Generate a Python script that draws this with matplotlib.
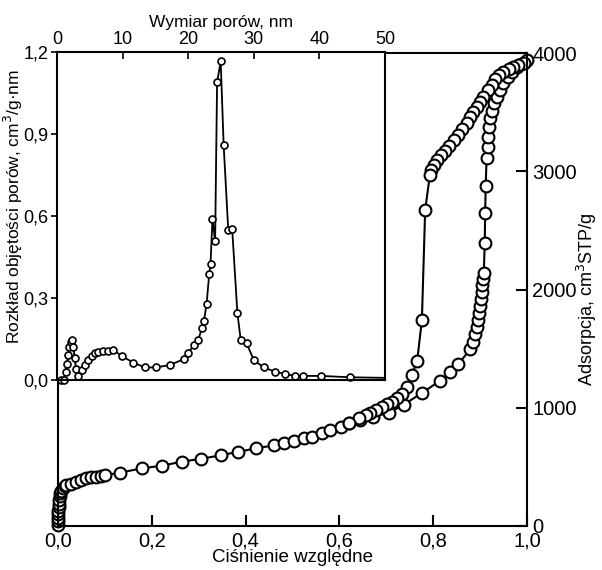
import matplotlib
matplotlib.use('Agg')
import matplotlib.pyplot as plt
from matplotlib.ticker import FuncFormatter

plt.rcParams['font.family'] = ['Liberation Sans', 'DejaVu Sans']

# izoterma - gałąź adsorpcji
ads_x = [0.000, 0.000, 0.001, 0.001, 0.001, 0.002, 0.002, 0.003, 0.004, 0.005,
         0.007, 0.010, 0.014, 0.018, 0.028, 0.039, 0.049, 0.060, 0.070, 0.081,
         0.092, 0.101, 0.133, 0.179, 0.222, 0.264, 0.306, 0.347, 0.383, 0.422,
         0.461, 0.482, 0.503, 0.524, 0.542, 0.563, 0.581, 0.603, 0.621, 0.645,
         0.672, 0.705, 0.737, 0.776, 0.815, 0.837, 0.854, 0.879, 0.886, 0.890,
         0.893, 0.896, 0.898, 0.900, 0.902, 0.904, 0.905, 0.906, 0.908, 0.910,
         0.911, 0.912, 0.914, 0.916, 0.918, 0.920, 0.922, 0.925, 0.930, 0.936,
         0.943, 0.950, 0.959, 0.969, 0.978, 0.988, 0.996]
ads_y = [10, 40, 70, 100, 130, 160, 190, 220, 250, 275,
         300, 320, 335, 345, 358, 375, 389, 402, 412, 418,
         424, 431, 451, 488, 510, 544, 569, 598, 626, 657,
         682, 699, 716, 742, 755, 784, 812, 835, 874, 895,
         925, 955, 1025, 1125, 1229, 1305, 1370, 1494, 1560, 1620,
         1680, 1740, 1800, 1860, 1920, 1980, 2040, 2090, 2137, 2391,
         2645, 2875, 3110, 3208, 3292, 3377, 3448, 3512, 3575, 3631,
         3687, 3744, 3794, 3842, 3879, 3907, 3926]

# gałąź desorpcji
des_x = [1.000, 0.993, 0.982, 0.971, 0.961, 0.950, 0.941, 0.932, 0.925, 0.917,
         0.907, 0.900, 0.893, 0.886, 0.879, 0.872, 0.861, 0.853, 0.844, 0.834,
         0.826, 0.817, 0.808, 0.801, 0.796, 0.793, 0.783, 0.776, 0.766, 0.755,
         0.744, 0.734, 0.723, 0.712, 0.702, 0.690, 0.678, 0.666, 0.656, 0.641,
         0.621]
des_y = [3941, 3918, 3899, 3879, 3862, 3842, 3814, 3777, 3729, 3687,
         3631, 3588, 3546, 3504, 3461, 3405, 3354, 3307, 3264, 3214,
         3174, 3137, 3095, 3053, 3011, 2968, 2672, 1742, 1398, 1280,
         1173, 1116, 1080, 1051, 1029, 1004, 981, 958, 939, 911,
         874]

# rozkład wielkości porów (wstawka)
psd_x = [0.6, 1.0, 1.3, 1.5, 1.7, 1.9, 2.1, 2.3, 2.5, 2.7, 2.9, 3.25, 3.76, 4.27,
         4.78, 5.28, 5.79, 6.3, 7.06, 7.83, 8.6, 9.86, 11.6, 13.4, 15.1, 17.2,
         19.3, 20.0, 20.9, 21.5, 22.1, 22.4, 22.8, 23.2, 23.4, 23.7, 24.1, 24.4,
         24.95, 25.4, 26.1, 26.7, 27.5, 28.0, 28.9, 30.0, 31.5, 33.2, 34.8, 36.3,
         37.5, 40.2, 44.7, 49.8]
psd_y = [0.0, 0.0, 0.03, 0.06, 0.09, 0.12, 0.14, 0.145, 0.12, 0.08, 0.04, 0.015,
         0.037, 0.055, 0.073, 0.088, 0.098, 0.104, 0.108, 0.108, 0.11, 0.088,
         0.064, 0.046, 0.046, 0.055, 0.076, 0.1, 0.128, 0.146, 0.189, 0.217,
         0.278, 0.388, 0.425, 0.59, 0.507, 1.089, 1.166, 0.86, 0.549, 0.552,
         0.244, 0.147, 0.134, 0.073, 0.046, 0.031, 0.022, 0.015, 0.015, 0.015,
         0.01, 0.008]

main_xticks = [0.0, 0.2, 0.4, 0.6, 0.8, 1.0]
main_yticks = [0, 1000, 2000, 3000, 4000]
ins_xticks = [0, 10, 20, 30, 40, 50]
ins_yticks = [0.0, 0.3, 0.6, 0.9, 1.2]

comma = FuncFormatter(lambda v, p: f'{v:.1f}'.replace('.', ','))

fig = plt.figure(figsize=(6.02, 5.70), dpi=100)

# główny wykres
ax = fig.add_axes([0.0963, 0.0772, 0.779, 0.8298])
mk = dict(marker='o', ms=8.5, mfc='white', mec='black', mew=1.5,
          color='black', lw=1.5, clip_on=False)
ax.plot(ads_x, ads_y, **mk)
ax.plot(des_x, des_y, **mk)
ax.set_xlim(0, 1.0)
ax.set_ylim(0, 4000)
ax.set_xticks(main_xticks)
ax.xaxis.set_major_formatter(comma)
ax.set_yticks(main_yticks)
ax.yaxis.tick_right()
ax.yaxis.set_label_position('right')
ax.tick_params(direction='in', length=8, width=1.5)
ax.tick_params(axis='x', pad=4, labelsize=14.5)
ax.tick_params(axis='y', pad=4, labelsize=14.5)
for s in ax.spines.values():
    s.set_linewidth(1.5)
ax.set_xlabel('Ciśnienie względne', fontsize=13.5, labelpad=-1)
ax.set_ylabel('Adsorpcja, cm$^3$STP/g', fontsize=13)
ax.yaxis.set_label_coords(1.102, 0.48)

# wstawka
ins = fig.add_axes([0.0947, 0.3333, 0.5449, 0.5754])
ins.plot(psd_x, psd_y, marker='o', ms=5, mfc='white', mec='black', mew=1.2,
         color='black', lw=1.3, clip_on=False,
         markevery=list(range(len(psd_x) - 1)))
ins.set_xlim(0, 50)
ins.set_ylim(0, 1.2)
ins.set_xticks(ins_xticks)
ins.set_yticks(ins_yticks)
ins.yaxis.set_major_formatter(comma)
ins.xaxis.tick_top()
ins.xaxis.set_label_position('top')
ins.tick_params(axis='x', direction='in', length=5, width=1.2, labelsize=13, pad=3)
ins.tick_params(axis='y', direction='out', length=4, width=1.2, labelsize=13, pad=2)
for s in ins.spines.values():
    s.set_linewidth(1.5)
ins.set_xlabel('Wymiar porów, nm', fontsize=12.5, labelpad=3)
ins.set_ylabel('Rozkład objętości porów, cm$^3$/g·nm', fontsize=12.5)
ins.yaxis.set_label_coords(-0.098, 0.53)

plt.savefig('out.png', dpi=100)
plt.close()
